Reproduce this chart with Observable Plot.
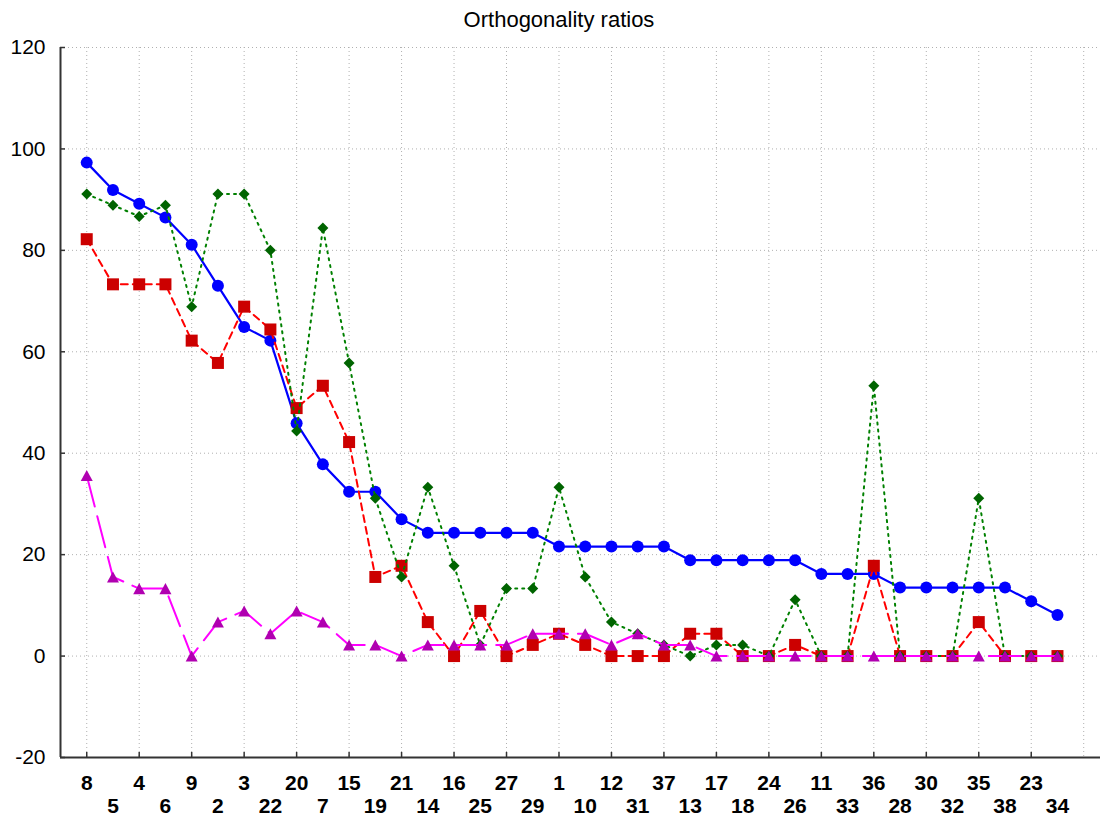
<!DOCTYPE html>
<html>
<head>
<meta charset="utf-8">
<script src="https://cdn.jsdelivr.net/npm/d3@7"></script>
<script src="https://cdn.jsdelivr.net/npm/@observablehq/plot@0.6"></script>
<style>
  body { margin: 0; background: #fff; }
  #title { height: 36px; width: 1118px; text-align: center; font: 22px "Liberation Sans", Arial, sans-serif; line-height: 22px; padding-top: 9px; box-sizing: border-box; color: #000; }
  #chart svg { display: block; overflow: visible; }
</style>
</head>
<body>
<div id="title">Orthogonality ratios</div>
<div id="chart"></div>
<script>
// Category labels in plotted order (positions 1..38)
const labels = [8,5,4,6,9,2,3,22,20,7,15,19,21,14,16,25,27,29,1,10,12,31,37,13,17,18,24,26,11,33,36,28,30,32,35,38,23,34];

// Series values
const blue = [97.3,91.9,89.2,86.5,81.1,73.0,64.9,62.2,45.9,37.8,32.4,32.4,27.0,24.3,24.3,24.3,24.3,24.3,21.6,21.6,21.6,21.6,21.6,18.9,18.9,18.9,18.9,18.9,16.2,16.2,16.2,13.5,13.5,13.5,13.5,13.5,10.8,8.1];
const red = [82.2,73.3,73.3,73.3,62.2,57.8,68.9,64.4,48.9,53.3,42.2,15.6,17.8,6.7,0,8.9,0,2.2,4.4,2.2,0,0,0,4.4,4.4,0,0,2.2,0,0,17.8,0,0,0,6.7,0,0,0];
const green = [91.1,88.9,86.7,88.9,68.9,91.1,91.1,80.0,44.4,84.4,57.8,31.1,15.6,33.3,17.8,2.2,13.3,13.3,33.3,15.6,6.7,4.4,2.2,0,2.2,2.2,0,11.1,0,0,53.3,0,0,0,31.1,0,0,0];
const magenta = [35.6,15.6,13.3,13.3,0,6.7,8.9,4.4,8.9,6.7,2.2,2.2,0,2.2,2.2,2.2,2.2,4.4,4.4,4.4,2.2,4.4,2.2,2.2,0,0,0,0,0,0,0,0,0,0,0,0,0,0];

// Axis ticks
const yTicks = [-20,0,20,40,60,80,100,120];
const yGrid = [0,20,40,60,80,100,120];
const positions = labels.map((_, i) => i + 1);
const oddPos = positions.filter(p => p % 2 === 1);
const evenPos = positions.filter(p => p % 2 === 0);
const xGrid = [...oddPos, 39];

const toRows = vals => vals.map((v, i) => ({pos: i + 1, value: v}));

const r2 = s => Math.sqrt(s / Math.PI);
const squareSym = {draw(ctx, size) { const r = r2(size); ctx.rect(-r, -r, 2 * r, 2 * r); }};
const diamondSym = {draw(ctx, size) { const r = r2(size); ctx.moveTo(0, -r); ctx.lineTo(r, 0); ctx.lineTo(0, r); ctx.lineTo(-r, 0); ctx.closePath(); }};
const triangleSym = {draw(ctx, size) { const r = r2(size); const h = r * 0.92; ctx.moveTo(0, -h); ctx.lineTo(r, h); ctx.lineTo(-r, h); ctx.closePath(); }};

const gridStyle = {stroke: "#b0b0b0", strokeOpacity: 1, strokeWidth: 1, strokeDasharray: "1,3"};
const axisColor = "#333";
const labelOf = p => String(labels[p - 1]);

const chart = Plot.plot({
  width: 1102,
  height: 782,
  marginLeft: 60,
  marginRight: 2,
  marginTop: 11,
  marginBottom: 61,
  x: {domain: [0, 39.64], axis: null, label: null},
  y: {domain: [-20, 120], axis: null, label: null},
  style: {fontFamily: '"Liberation Sans", Arial, sans-serif', background: "#fff", color: "#000"},
  marks: [
    Plot.gridY(yGrid, gridStyle),
    Plot.gridX(xGrid, gridStyle),
    // axis lines
    Plot.ruleX([0], {stroke: axisColor, strokeWidth: 2}),
    Plot.ruleY([-20], {stroke: axisColor, strokeWidth: 2}),
    // inward ticks
    Plot.axisY(yTicks, {tickSize: 5, dx: 5, fill: "none", stroke: axisColor, strokeWidth: 1.5, label: null}),
    Plot.axisX(oddPos, {tickSize: 5, dy: -5, fill: "none", stroke: axisColor, strokeWidth: 1.5, label: null}),
    // tick labels
    Plot.axisY(yTicks, {tickSize: 0, tickPadding: 15, tickFormat: d => String(d), fontSize: 21, fill: "#000", label: null}),
    Plot.axisX(oddPos, {tickSize: 0, tickPadding: 18, tickFormat: labelOf, fontSize: 21, fontWeight: "bold", fill: "#000", label: null}),
    Plot.axisX(evenPos, {tickSize: 0, tickPadding: 41, tickFormat: labelOf, fontSize: 21, fontWeight: "bold", fill: "#000", label: null}),
    // blue series
    Plot.line(toRows(blue), {x: "pos", y: "value", stroke: "#0000ff", strokeWidth: 2.2}),
    Plot.dot(toRows(blue), {x: "pos", y: "value", r: 6, fill: "#0000ff", symbol: "circle"}),
    // red series
    Plot.line(toRows(red), {x: "pos", y: "value", stroke: "#ff0000", strokeWidth: 2, strokeDasharray: "7,5"}),
    Plot.dot(toRows(red), {x: "pos", y: "value", r: 6, fill: "#cc0000", symbol: squareSym}),
    // green series
    Plot.line(toRows(green), {x: "pos", y: "value", stroke: "#008000", strokeWidth: 2, strokeDasharray: "2,5"}),
    Plot.dot(toRows(green), {x: "pos", y: "value", r: 5.5, fill: "#006400", symbol: diamondSym}),
    // magenta series
    Plot.line(toRows(magenta), {x: "pos", y: "value", stroke: "#ff00ff", strokeWidth: 2, strokeDasharray: "32,10"}),
    Plot.dot(toRows(magenta), {x: "pos", y: "value", r: 6, fill: "#b000b0", symbol: triangleSym})
  ]
});
document.getElementById("chart").appendChild(chart);
</script>
</body>
</html>
